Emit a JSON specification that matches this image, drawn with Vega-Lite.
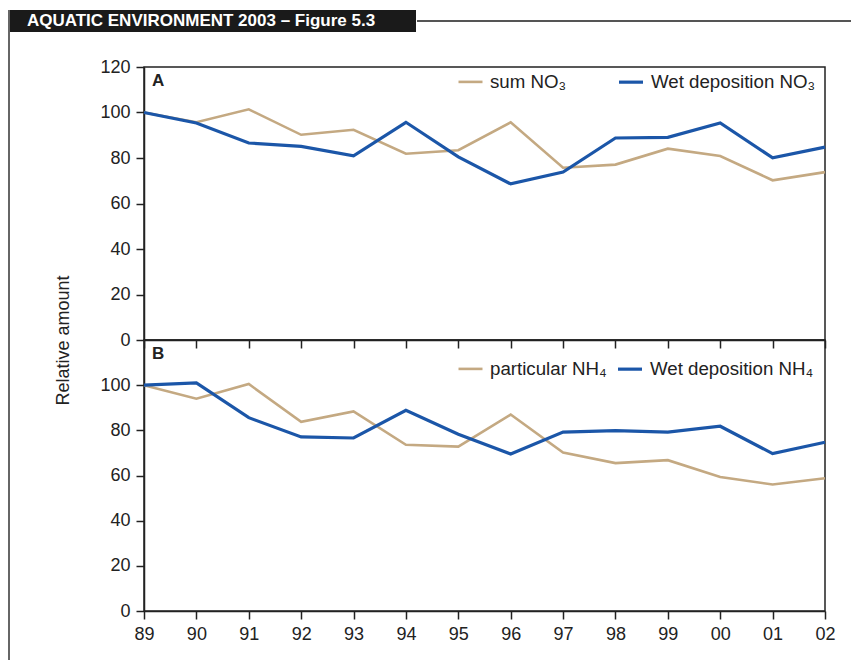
{
  "$schema": "https://vega.github.io/schema/vega-lite/v6.json",
  "padding": {"left": 8, "top": 9, "right": 0, "bottom": 0},
  "background": "white",
  "config": {
    "font": "Liberation Sans",
    "view": {"stroke": null},
    "axis": {
      "labelFont": "Liberation Sans", "labelFontSize": 18, "labelColor": "#222",
      "domainColor": "#222", "tickColor": "#222", "domainWidth": 1.5, "tickWidth": 1.5,
      "tickSize": 8, "labelPadding": 6, "grid": false,
      "titleFont": "Liberation Sans", "titleFontWeight": "normal", "titleColor": "#222"
    }
  },
  "datasets": {
    "A": [
      {"yr": "89", "series": "sum NO₃", "value": 100},
      {"yr": "90", "series": "sum NO₃", "value": 95.7},
      {"yr": "91", "series": "sum NO₃", "value": 101.4},
      {"yr": "92", "series": "sum NO₃", "value": 90.2},
      {"yr": "93", "series": "sum NO₃", "value": 92.4},
      {"yr": "94", "series": "sum NO₃", "value": 81.9},
      {"yr": "95", "series": "sum NO₃", "value": 83.4},
      {"yr": "96", "series": "sum NO₃", "value": 95.7},
      {"yr": "97", "series": "sum NO₃", "value": 75.7},
      {"yr": "98", "series": "sum NO₃", "value": 77.1},
      {"yr": "99", "series": "sum NO₃", "value": 84.1},
      {"yr": "00", "series": "sum NO₃", "value": 80.9},
      {"yr": "01", "series": "sum NO₃", "value": 70.2},
      {"yr": "02", "series": "sum NO₃", "value": 73.8},
      {"yr": "89", "series": "Wet deposition NO₃", "value": 100},
      {"yr": "90", "series": "Wet deposition NO₃", "value": 95.4},
      {"yr": "91", "series": "Wet deposition NO₃", "value": 86.6},
      {"yr": "92", "series": "Wet deposition NO₃", "value": 85.1},
      {"yr": "93", "series": "Wet deposition NO₃", "value": 81.0},
      {"yr": "94", "series": "Wet deposition NO₃", "value": 95.7},
      {"yr": "95", "series": "Wet deposition NO₃", "value": 80.5},
      {"yr": "96", "series": "Wet deposition NO₃", "value": 68.6},
      {"yr": "97", "series": "Wet deposition NO₃", "value": 73.8},
      {"yr": "98", "series": "Wet deposition NO₃", "value": 88.8},
      {"yr": "99", "series": "Wet deposition NO₃", "value": 89.1},
      {"yr": "00", "series": "Wet deposition NO₃", "value": 95.4},
      {"yr": "01", "series": "Wet deposition NO₃", "value": 80.1},
      {"yr": "02", "series": "Wet deposition NO₃", "value": 84.8}
    ],
    "B": [
      {"yr": "89", "series": "particular NH₄", "value": 100},
      {"yr": "90", "series": "particular NH₄", "value": 94.0},
      {"yr": "91", "series": "particular NH₄", "value": 100.5},
      {"yr": "92", "series": "particular NH₄", "value": 83.8},
      {"yr": "93", "series": "particular NH₄", "value": 88.4},
      {"yr": "94", "series": "particular NH₄", "value": 73.6},
      {"yr": "95", "series": "particular NH₄", "value": 72.8},
      {"yr": "96", "series": "particular NH₄", "value": 87.0},
      {"yr": "97", "series": "particular NH₄", "value": 70.2},
      {"yr": "98", "series": "particular NH₄", "value": 65.5},
      {"yr": "99", "series": "particular NH₄", "value": 66.8},
      {"yr": "00", "series": "particular NH₄", "value": 59.3},
      {"yr": "01", "series": "particular NH₄", "value": 56.0},
      {"yr": "02", "series": "particular NH₄", "value": 58.8},
      {"yr": "89", "series": "Wet deposition NH₄", "value": 100},
      {"yr": "90", "series": "Wet deposition NH₄", "value": 101.0},
      {"yr": "91", "series": "Wet deposition NH₄", "value": 85.6},
      {"yr": "92", "series": "Wet deposition NH₄", "value": 77.1},
      {"yr": "93", "series": "Wet deposition NH₄", "value": 76.6},
      {"yr": "94", "series": "Wet deposition NH₄", "value": 88.9},
      {"yr": "95", "series": "Wet deposition NH₄", "value": 78.3},
      {"yr": "96", "series": "Wet deposition NH₄", "value": 69.5},
      {"yr": "97", "series": "Wet deposition NH₄", "value": 79.2},
      {"yr": "98", "series": "Wet deposition NH₄", "value": 79.9},
      {"yr": "99", "series": "Wet deposition NH₄", "value": 79.2},
      {"yr": "00", "series": "Wet deposition NH₄", "value": 81.8},
      {"yr": "01", "series": "Wet deposition NH₄", "value": 69.7},
      {"yr": "02", "series": "Wet deposition NH₄", "value": 74.7}
    ],
    "hdr": [{"label": "AQUATIC ENVIRONMENT 2003 – Figure 5.3"}],
    "one": [{"k": 0}]
  },
  "spacing": 0,
  "hconcat": [
    {
      "width": 1, "height": 651,
      "data": {"name": "one"},
      "mark": {"type": "rule", "color": "#333", "strokeWidth": 1.5},
      "encoding": {"x": {"datum": 0, "type": "quantitative", "scale": {"domain": [0, 1]}, "axis": null}}
    },
    {
      "spacing": 25,
      "vconcat": [
        {
          "spacing": 0,
          "hconcat": [
            {
              "width": 406, "height": 22,
              "view": {"fill": "#1a1a1a", "stroke": null},
              "data": {"name": "hdr"},
              "mark": {"type": "text", "color": "white", "fontWeight": "bold", "fontSize": 17, "dx": -12, "font": "Liberation Sans"},
              "encoding": {"text": {"field": "label"}}
            },
            {
              "width": 436, "height": 22,
              "data": {"name": "one"},
              "mark": {"type": "rule", "color": "#555", "strokeWidth": 2},
              "encoding": {"y": {"datum": 0, "type": "quantitative", "scale": {"domain": [-1, 1]}, "axis": null}}
            }
          ]
        },
        {
          "spacing": 0,
          "hconcat": [
            {
              "width": 44, "height": 1,
              "data": {"name": "one"},
              "mark": {"type": "rule", "opacity": 0},
              "encoding": {"y": {"datum": 0, "type": "quantitative", "scale": {"domain": [0, 1]}, "axis": null}}
            },
            {
              "spacing": 0,
              "bounds": "flush",
              "resolve": {"scale": {"color": "independent", "strokeWidth": "independent"}},
              "vconcat": [
                {
                  "width": 681, "height": 273,
                  "view": {"stroke": "#222", "strokeWidth": 1.5},
                  "layer": [
                    {
                      "data": {"name": "A"},
                      "mark": {"type": "line"},
                      "encoding": {
                        "x": {"field": "yr", "type": "ordinal", "sort": null, "scale": {"type": "point", "padding": 0}, "axis": {"labels": false, "title": null}},
                        "y": {"field": "value", "type": "quantitative", "scale": {"domain": [0, 120]},
                              "axis": {"values": [0, 20, 40, 60, 80, 100, 120], "title": "Relative amount", "titleY": 273, "titleFontSize": 18, "titlePadding": 27}},
                        "color": {"field": "series", "type": "nominal",
                                  "scale": {"domain": ["sum NO₃", "Wet deposition NO₃"], "range": ["#c4a982", "#1b56a8"]},
                                  "legend": {"title": null, "orient": "none", "legendX": 313, "legendY": 1, "direction": "horizontal",
                                             "labelFontSize": 18.7, "labelColor": "#222", "labelFont": "Liberation Sans",
                                             "symbolType": "stroke", "symbolSize": 576, "symbolStrokeWidth": 3,
                                             "labelOffset": 6, "columnPadding": 45, "labelLimit": 400}},
                        "strokeWidth": {"field": "series", "type": "nominal", "scale": {"domain": ["sum NO₃", "Wet deposition NO₃"], "range": [2.6, 3.2]}, "legend": null}
                      }
                    },
                    {
                      "data": {"values": [{"lbl": "A"}]},
                      "mark": {"type": "text", "fontWeight": "bold", "fontSize": 17, "align": "left", "dx": 8, "color": "#222"},
                      "encoding": {
                        "x": {"datum": "89", "type": "ordinal"},
                        "y": {"datum": 114, "type": "quantitative"},
                        "text": {"field": "lbl"}
                      }
                    }
                  ]
                },
                {
                  "width": 681, "height": 271,
                  "view": {"stroke": "#222", "strokeWidth": 1.5},
                  "layer": [
                    {
                      "data": {"name": "B"},
                      "mark": {"type": "line"},
                      "encoding": {
                        "x": {"field": "yr", "type": "ordinal", "sort": null, "scale": {"type": "point", "padding": 0}, "axis": {"labelAngle": 0, "title": null}},
                        "y": {"field": "value", "type": "quantitative", "scale": {"domain": [0, 120]},
                              "axis": {"values": [0, 20, 40, 60, 80, 100], "title": null}},
                        "color": {"field": "series", "type": "nominal",
                                  "scale": {"domain": ["particular NH₄", "Wet deposition NH₄"], "range": ["#c4a982", "#1b56a8"]},
                                  "legend": {"title": null, "orient": "none", "legendX": 313, "legendY": 15, "direction": "horizontal",
                                             "labelFontSize": 18.7, "labelColor": "#222", "labelFont": "Liberation Sans",
                                             "symbolType": "stroke", "symbolSize": 576, "symbolStrokeWidth": 3,
                                             "labelOffset": 6, "columnPadding": 4, "labelLimit": 400}},
                        "strokeWidth": {"field": "series", "type": "nominal", "scale": {"domain": ["particular NH₄", "Wet deposition NH₄"], "range": [2.6, 3.2]}, "legend": null}
                      }
                    },
                    {
                      "data": {"values": [{"lbl": "B"}]},
                      "mark": {"type": "text", "fontWeight": "bold", "fontSize": 17, "align": "left", "dx": 8, "color": "#222"},
                      "encoding": {
                        "x": {"datum": "89", "type": "ordinal"},
                        "y": {"datum": 114, "type": "quantitative"},
                        "text": {"field": "lbl"}
                      }
                    }
                  ]
                }
              ]
            }
          ]
        }
      ]
    }
  ]
}
